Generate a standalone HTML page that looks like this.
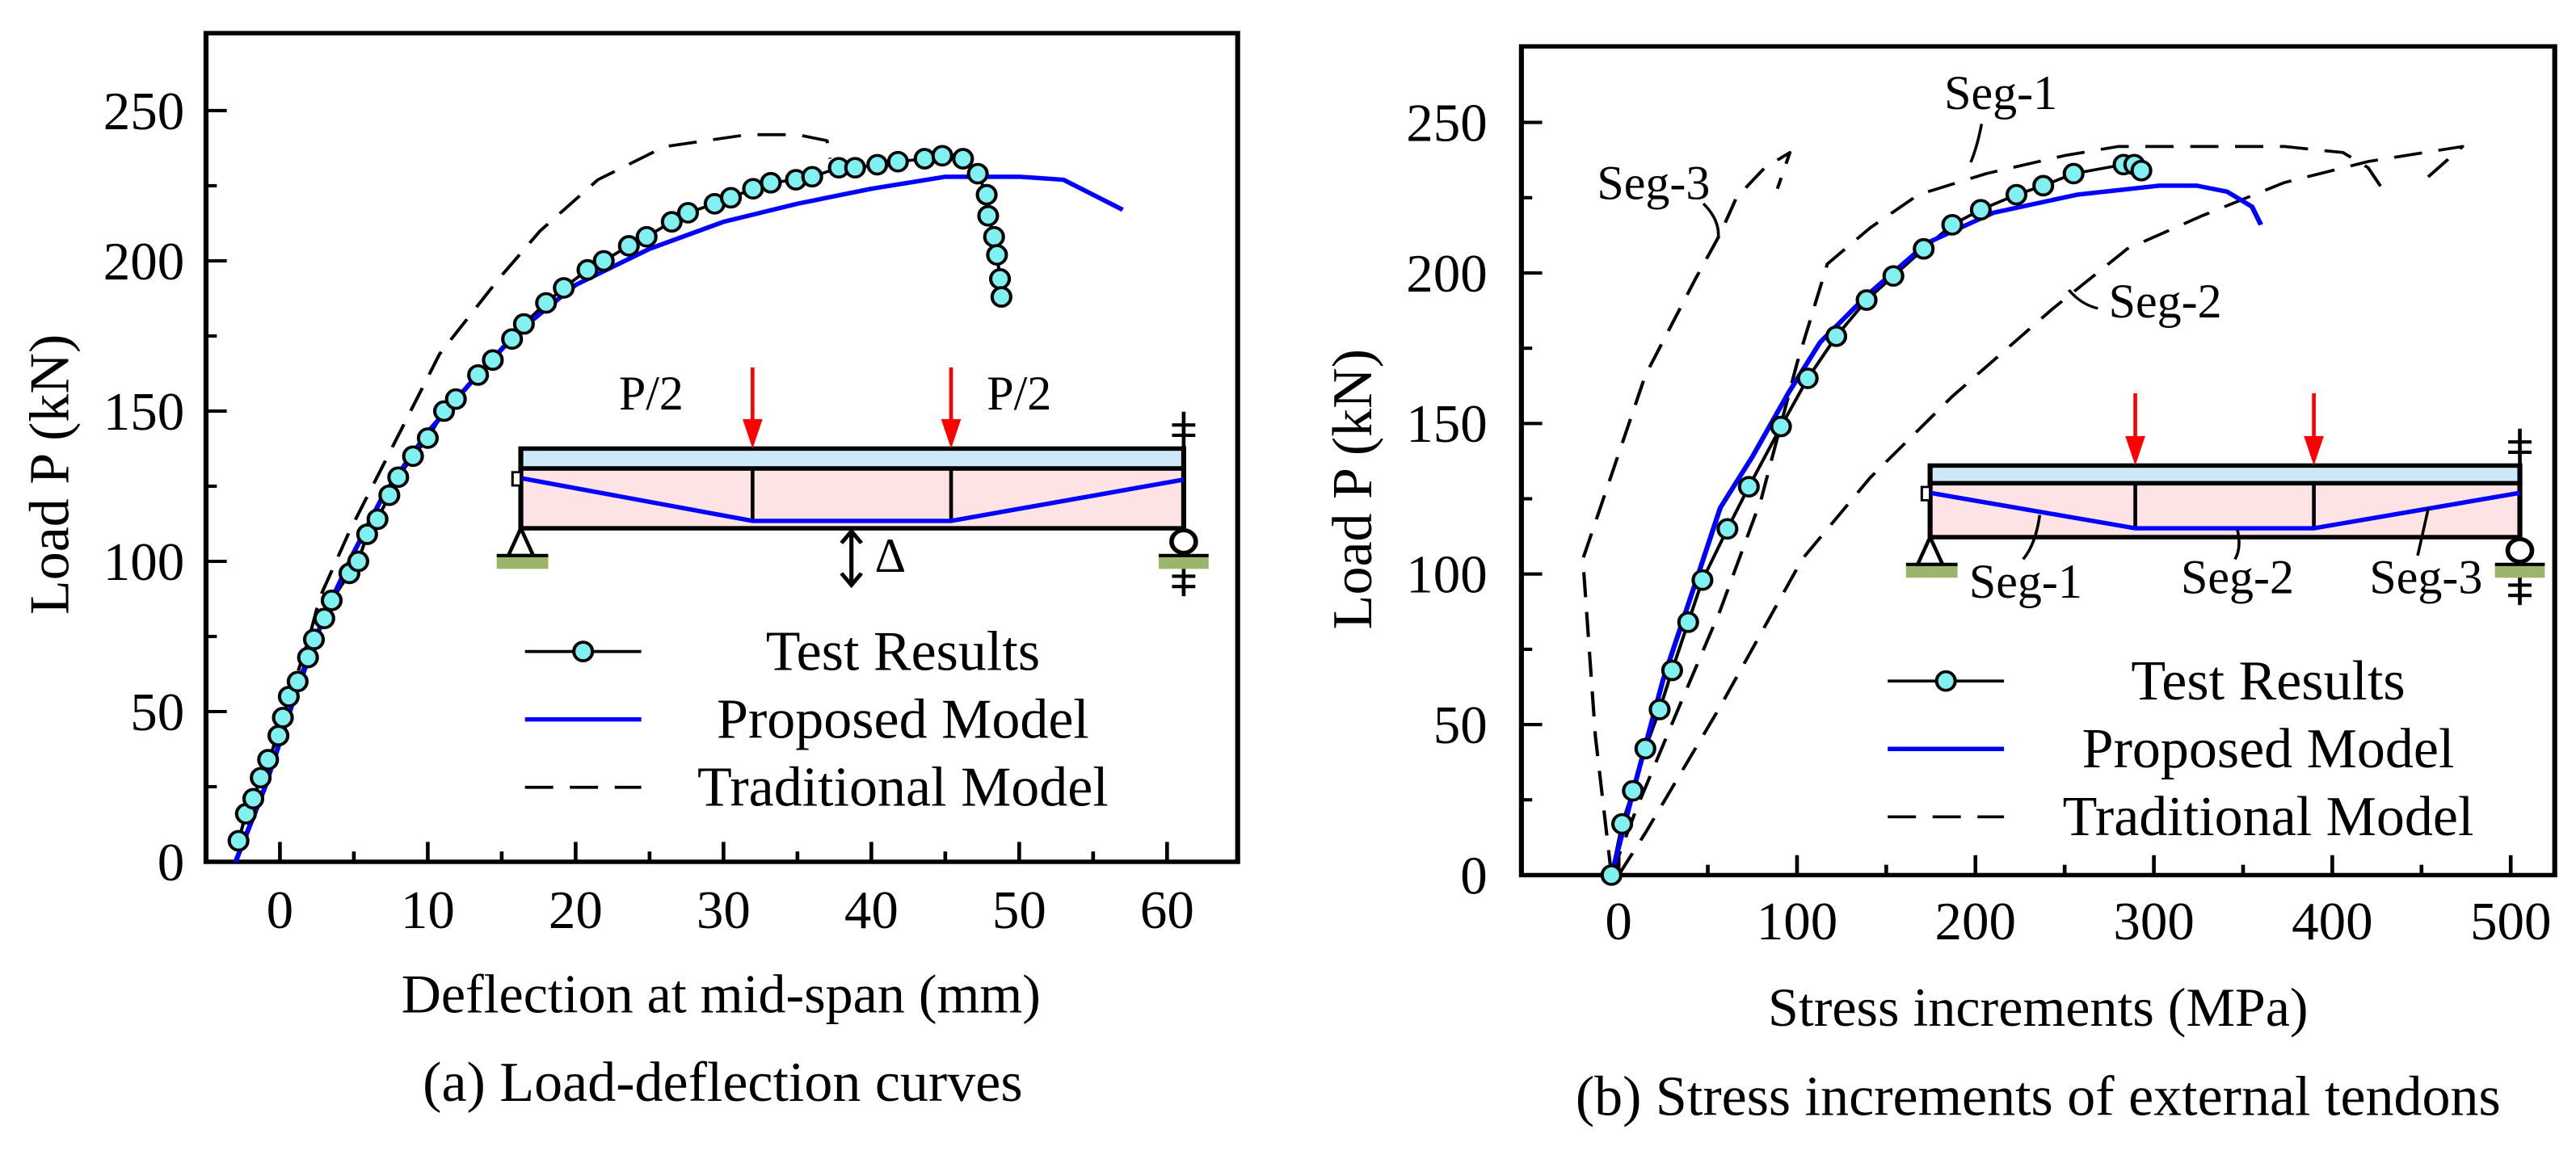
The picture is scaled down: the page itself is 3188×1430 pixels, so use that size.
<!DOCTYPE html>
<html><head><meta charset="utf-8"><style>
html,body{margin:0;padding:0;background:#fff;}
svg{display:block;font-family:"Liberation Serif",serif;}
</style></head><body>
<svg id="fig" width="3188" height="1430" viewBox="0 0 3188 1430" xmlns="http://www.w3.org/2000/svg">
<rect x="0" y="0" width="3188" height="1430" fill="#fff"/>
<g id="pa" transform="matrix(1.028 0 0 0.9136 0 -1.9)"></g>
<g id="pb" transform="matrix(1.028 0 0 0.9136 1594 -1.9)"></g>
</svg>
<script>
// ---------- Panel (a) data ----------
const aTestX=[-2.8,-2.3,-1.8,-1.3,-0.8,-0.1,0.2,0.6,1.2,1.9,2.3,3.0,3.5,4.7,5.3,5.9,6.6,7.4,8.0,9.0,10.0,11.1,11.9,13.4,14.4,15.7,16.5,18.0,19.2,20.8,21.9,23.6,24.8,26.5,27.6,29.4,30.5,32.0,33.2,34.9,36.0,37.8,38.9,40.4,41.8,43.6,44.8,46.2,47.2,47.8,47.9,48.3,48.5,48.7,48.8];
const aTestY=[7,16,21,28,34,42,48,55,60,68,74,81,87,96,100,109,114,122,128,135,141,150,154,162,167,174,179,186,191,197,200,205,208,213,216,219,221,224,226,227,228,231,231,232,233,234,235,234,229,222,215,208,202,194,188];
const aPropX=[-3,-1,1,3,5,7,10,13,16,20,25,30,35,40,45,50,53,55,57];
const aPropY=[0,25,55,82,103,122,143,160,176,192,204,213,219,224,228,228,227,222,217];
const aTradX=[-3,0,2,2.7,4.7,7.5,10.8,14.8,17.6,21.5,26,31.6,35,37,37.2];
const aTradY=[0,45,75,88,110,137,169,194,210,227,238,242,242,240,234];
const aXTicks=[0,10,20,30,40,50,60];
const aYTicks=[0,50,100,150,200,250];
// ---------- Panel (b) data ----------
const bTestX=[-4,2,8,15,23,30,39,47,61,73,91,106,122,139,154,171,187,203,223,238,255,283,289,293];
const bTestY=[0,17,28,42,55,68,84,98,115,129,149,165,179,191,199,208,216,221,226,229,233,236,236,234];
const bPropX=[-4,10,25,43,57,75,95,113,140,173,210,257,303,324,341,355,360];
const bPropY=[0,32,65,97,122,139,160,177,193,210,220,226,229,229,227,222,216];
const bSeg1X=[-4,10,34,57,80,100,117,141,168,206,250,280,373,406,420,428];
const bSeg1Y=[0,22,56,88,125,170,203,215,226,233,239,242,242,240,235,228];
const bSeg2X=[0,15,57,103,141,187,243,285,327,373,420,473,452];
const bSeg2Y=[0,14,56,105,132,159,188,208,219,230,237,242,231];
const bSeg3X=[-4,-13,-20,15,43,57,66,82,96,89];
const bSeg3Y=[0,46,105,166,198,213,225,235,240,228];
const bXTicks=[0,100,200,300,400,500];
const bYTicks=[0,50,100,150,200,250];

const NS="http://www.w3.org/2000/svg";
const SX=1.028, SY=0.9136;
function mk(parent,tag,attrs,text){const e=document.createElementNS(NS,tag);for(const k in attrs)e.setAttribute(k,attrs[k]);if(text!==undefined)e.textContent=text;parent.appendChild(e);return e;}

const aX=v=>337+v*17.8, aY=v=>1170-v*4.072;
const bX=v=>398+v*2.148, bY=v=>1188-v*4.08;

function pathD(xs,ys,fx,fy){return xs.map((x,i)=>(i?'L':'M')+fx(x).toFixed(1)+' '+fy(ys[i]).toFixed(1)).join(' ');}
function txt(g,x,y,s,size,anchor,name,rot){
  const t=mk(g,'text',{x:0,y:0,'font-size':size,'text-anchor':anchor||'start',transform:`translate(${x} ${y}) scale(${1/SX} ${1/SY})`+(rot?` rotate(${rot})`:'')},s);
  
  
  return t;}

function drawAxes(g,fr,fx,fy,xt,xminor,xmaj,yt,yminor,ymaj,xlabY,ylabX){
  let e=mk(g,'rect',{x:fr[0],y:fr[1],width:fr[2]-fr[0],height:fr[3]-fr[1],fill:'none',stroke:'#000','stroke-width':6});
  
  
  xminor.forEach(v=>{const L=(v%xmaj===0)?27:14;const t=mk(g,'line',{x1:fx(v),x2:fx(v),y1:fr[3],y2:fr[3]-L,stroke:'#000','stroke-width':4.5});
    
    });
  yminor.forEach(v=>{const L=(v%ymaj===0)?25:13;const t=mk(g,'line',{x1:fr[0],x2:fr[0]+L,y1:fy(v),y2:fy(v),stroke:'#000','stroke-width':4.5});
    
    });
  xt.forEach(v=>{txt(g,fx(v),xlabY,String(v),67,'middle','x-tick-label');});
  yt.forEach(v=>{txt(g,ylabX,fy(v)+25,String(v),67,'end','y-tick-label');});
}
function drawLine(g,xs,ys,fx,fy,col,w,dash,name){
  const p=mk(g,'path',{d:pathD(xs,ys,fx,fy),fill:'none',stroke:col,'stroke-width':w,'stroke-linejoin':'round'});
  if(dash)p.setAttribute('stroke-dasharray',dash);
  
  
}
function marker(g,cx,cy){
  return mk(g,'ellipse',{cx:cx,cy:cy,rx:11.5/SX,ry:11.5/SY,fill:'#80F0F0',stroke:'#000','stroke-width':4});
}
function drawMarkers(g,xs,ys,fx,fy){
  xs.forEach((x,i)=>{const c=marker(g,fx(x),fy(ys[i]));
    
    });
}
function legend(g,x1,x2,y,tx,gap){
  let l=mk(g,'line',{x1:x1,x2:x2,y1:y,y2:y,stroke:'#000','stroke-width':4});
  
  
  let c=marker(g,(x1+x2)/2,y);
  
  
  txt(g,tx,y+25,'Test Results',70,'middle','legend-test-results');
  l=mk(g,'line',{x1:x1,x2:x2,y1:y+gap,y2:y+gap,stroke:'#0000ff','stroke-width':6});
  
  
  txt(g,tx,y+gap+25,'Proposed Model',70,'middle','legend-proposed-model');
  l=mk(g,'line',{x1:x1,x2:x2,y1:y+2*gap,y2:y+2*gap,stroke:'#000','stroke-width':4,'stroke-dasharray':'34 20'});
  
  
  txt(g,tx,y+2*gap+25,'Traditional Model',70,'middle','legend-traditional-model');
}
function arrow(g,x,y1,y2){
  let l=mk(g,'line',{x1:x,x2:x,y1:y1,y2:y2-30,stroke:'#ff0000','stroke-width':4.5});
  
  
  let p=mk(g,'path',{d:`M${x-12} ${y2-40} L${x+12} ${y2-40} L${x} ${y2} Z`,fill:'#ff0000'});
  
  
}
function beam(g,L,R,T,M,B,v1,v2,tl,tm,tr){
  let r=mk(g,'rect',{x:L,y:T,width:R-L,height:M-T,fill:'#cde9f7',stroke:'#000','stroke-width':6});
  
  
  r=mk(g,'rect',{x:L,y:M,width:R-L,height:B-M,fill:'#fde3e3',stroke:'#000','stroke-width':6});
  
  
  [v1,v2].forEach(v=>{const l=mk(g,'line',{x1:v,x2:v,y1:M,y2:B-10,stroke:'#000','stroke-width':4.5});
    
    });
  const p=mk(g,'path',{d:`M${L} ${tl} L${v1} ${tm} L${v2} ${tm} L${R} ${tr}`,fill:'none',stroke:'#0000ff','stroke-width':6});
  
  
  r=mk(g,'rect',{x:L-10,y:tl-8,width:10,height:18,fill:'#fff',stroke:'#000','stroke-width':3});
  
  
  const sy=B+37;
  let t=mk(g,'path',{d:`M${L} ${B} L${L-15} ${sy} L${L+15} ${sy} Z`,fill:'#fff',stroke:'#000','stroke-width':4.5});
  
  
  r=mk(g,'rect',{x:L-29,y:sy+2,width:62,height:16,fill:'#9bb56a'});
  
  
  let l=mk(g,'line',{x1:L-29,x2:L+33,y1:sy,y2:sy,stroke:'#000','stroke-width':4.5});
  
  
  let c=mk(g,'ellipse',{cx:R,cy:B+18,rx:15/SX,ry:14/SY,fill:'#fff',stroke:'#000','stroke-width':5.5});
  
  
  r=mk(g,'rect',{x:R-30,y:sy+2,width:60,height:16,fill:'#9bb56a'});
  
  
  l=mk(g,'line',{x1:R-30,x2:R+30,y1:sy,y2:sy,stroke:'#000','stroke-width':4.5});
  
  
  const h=mk(g,'path',{d:`M${R} ${T-50} L${R} ${T} M${R-14} ${T-32} L${R+14} ${T-32} M${R-14} ${T-18} L${R+14} ${T-18} M${R} ${sy+18} L${R} ${sy+55} M${R-14} ${sy+28} L${R+14} ${sy+28} M${R-14} ${sy+42} L${R+14} ${sy+42}`,fill:'none',stroke:'#000','stroke-width':4.5});
  
  
}

// ---------- Panel (a) ----------
const ga=document.getElementById('pa');
drawAxes(ga,[248,47,1490,1170],aX,aY,aXTicks,[-5,0,5,10,15,20,25,30,35,40,45,50,55,60],10,aYTicks,[0,25,50,75,100,125,150,175,200,225,250],50,1260,222);
drawLine(ga,aTradX,aTradY,aX,aY,'#000',4,'34 20','traditional-model-line');
drawLine(ga,aTestX,aTestY,aX,aY,'#000',4,null,'test-results-line');
drawLine(ga,aPropX,aPropY,aX,aY,'#0000ff',6,null,'proposed-model-line');
drawMarkers(ga,aTestX,aTestY,aX,aY);
beam(ga,627,1425,610,637,718,906,1145,650,708,652);
arrow(ga,906,500,610);arrow(ga,1145,500,610);
txt(ga,745,557,'P/2',60,'start','load-label-left');
txt(ga,1188,557,'P/2',60,'start','load-label-right');
let da=mk(ga,'path',{d:'M1025 722 L1025 795 M1013 738 L1025 722 L1037 738 M1013 779 L1025 795 L1037 779',fill:'none',stroke:'#000','stroke-width':5});


txt(ga,1053,777,'Δ',60,'start','delta-label');
legend(ga,632,772,885,1087,92);
txt(ga,82,645,'Load P (kN)',70,'middle','y-axis-title',-90);
txt(ga,868,1374,'Deflection at mid-span (mm)',68,'middle','x-axis-title');
txt(ga,870,1494,'(a) Load-deflection curves',70,'middle','panel-a-caption');

// ---------- Panel (b) ----------
const gb=document.getElementById('pb');
drawAxes(gb,[281,65,1525,1188],bX,bY,bXTicks,[0,50,100,150,200,250,300,350,400,450,500],100,bYTicks,[0,25,50,75,100,125,150,175,200,225,250],50,1275,240);
drawLine(gb,bSeg1X,bSeg1Y,bX,bY,'#000',4,'34 20','traditional-seg1-line');
drawLine(gb,bSeg2X,bSeg2Y,bX,bY,'#000',4,'34 20','traditional-seg2-line');
drawLine(gb,bSeg3X,bSeg3Y,bX,bY,'#000',4,'34 20','traditional-seg3-line');
drawLine(gb,bTestX,bTestY,bX,bY,'#000',4,null,'test-results-line');
drawLine(gb,bPropX,bPropY,bX,bY,'#0000ff',6,null,'proposed-model-line');
drawMarkers(gb,bTestX,bTestY,bX,bY);
txt(gb,790,150,'Seg-1',60,'start','seg1-curve-label');
txt(gb,372,272,'Seg-3',60,'start','seg3-curve-label');
txt(gb,988,432,'Seg-2',60,'start','seg2-curve-label');
let ld=mk(gb,'path',{d:'M835 170 Q830 200 822 222 M500 278 Q520 300 518 325 M940 395 Q955 415 975 420',fill:'none',stroke:'#000','stroke-width':3.5});


beam(gb,773,1483,633,657,730,1020,1235,670,718,670);
arrow(gb,1020,535,633);arrow(gb,1235,535,633);
let ld2=mk(gb,'path',{d:'M905 700 Q900 740 885 760 M1143 720 Q1148 745 1140 760 M1373 690 Q1365 730 1360 755',fill:'none',stroke:'#000','stroke-width':3.5});


txt(gb,888,812,'Seg-1',60,'middle','inset-seg1-label');
txt(gb,1143,806,'Seg-2',60,'middle','inset-seg2-label');
txt(gb,1370,806,'Seg-3',60,'middle','inset-seg3-label');
legend(gb,722,862,925,1180,92);
txt(gb,100,665,'Load P (kN)',70,'middle','y-axis-title',-90);
txt(gb,903,1392,'Stress increments (MPa)',68,'middle','x-axis-title');
txt(gb,903,1513,'(b) Stress increments of external tendons',70,'middle','panel-b-caption');
</script>
</body></html>
